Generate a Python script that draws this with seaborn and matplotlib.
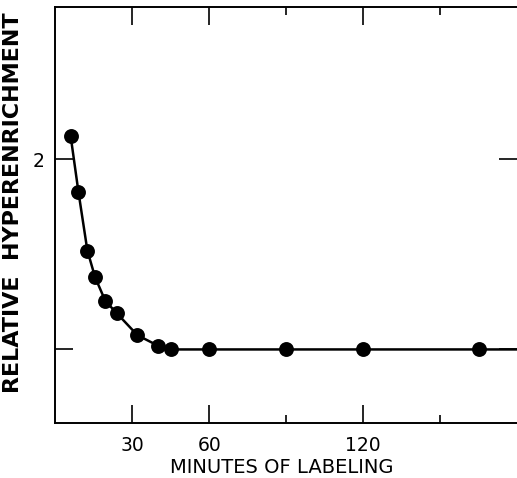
#!/usr/bin/env python3
# hyperenrichment.py
# Relative hyperenrichment versus minutes of labeling

import pandas as pd
import matplotlib.pyplot as plt
import seaborn as sns
from matplotlib.ticker import FixedLocator

sns.set_style("ticks")
plt.rcParams['font.family'] = ['DejaVu Sans']
plt.rcParams['text.color'] = 'black'
plt.rcParams['xtick.color'] = 'black'
plt.rcParams['ytick.color'] = 'black'
plt.rcParams['axes.labelcolor'] = 'black'

# Datos
minutes = [6, 9, 12.5, 15.5, 19.5, 24, 32, 40, 45, 60, 90, 120, 165]
hyperenrichment = [2.12, 1.83, 1.52, 1.38, 1.255, 1.19, 1.075, 1.02,
                   1.0, 1.0, 1.0, 1.0, 1.0]

x_major = [30, 60, 120]
x_minor = [90, 150]
y_ticks = [1, 2]
y_ticklabels = ["", "2"]
x_lim = (0, 180)
y_lim = (0.613, 2.80)

df = pd.DataFrame({"minutes": minutes, "value": hyperenrichment})

# la curva sigue hasta el borde derecho con el ultimo valor
curve = pd.concat([df, pd.DataFrame({"minutes": [x_lim[1]],
                                     "value": [hyperenrichment[-1]]})],
                  ignore_index=True)

fig = plt.figure(figsize=(5.17, 4.78), dpi=100)
ax = fig.add_axes([0.107, 0.115, 0.893, 0.87])

sns.lineplot(data=curve, x="minutes", y="value", ax=ax, color="black",
             linewidth=1.8, sort=True, estimator=None)
sns.scatterplot(data=df, x="minutes", y="value", ax=ax, color="black",
                s=115, edgecolor="black", linewidth=0, zorder=3)

ax.set_xlim(*x_lim)
ax.set_ylim(*y_lim)

ax.xaxis.set_major_locator(FixedLocator(x_major))
ax.xaxis.set_minor_locator(FixedLocator(x_minor))
ax.set_xticklabels([str(v) for v in x_major])
ax.set_yticks(y_ticks)
ax.set_yticklabels(y_ticklabels)

ax.tick_params(axis="x", which="major", direction="in", length=13, width=1.2,
               top=True, bottom=True, labelsize=13.5, pad=9)
ax.tick_params(axis="x", which="minor", direction="in", length=6, width=1.2,
               top=True, bottom=True)
ax.tick_params(axis="y", which="major", direction="in", length=13, width=1.2,
               left=True, right=True, labelsize=13.5, pad=8)

for side in ["left", "bottom", "top"]:
    ax.spines[side].set_linewidth(1.4)
    ax.spines[side].set_color("black")
ax.spines["right"].set_visible(False)

ax.set_xlabel("MINUTES OF LABELING", fontsize=14, va="baseline")
ax.xaxis.set_label_coords(0.49, -0.12)
ax.set_ylabel("RELATIVE  HYPERENRICHMENT", fontsize=16, fontweight="bold")
ax.yaxis.set_label_coords(-0.07, 0.531)

fig.savefig("out.png", dpi=100)
